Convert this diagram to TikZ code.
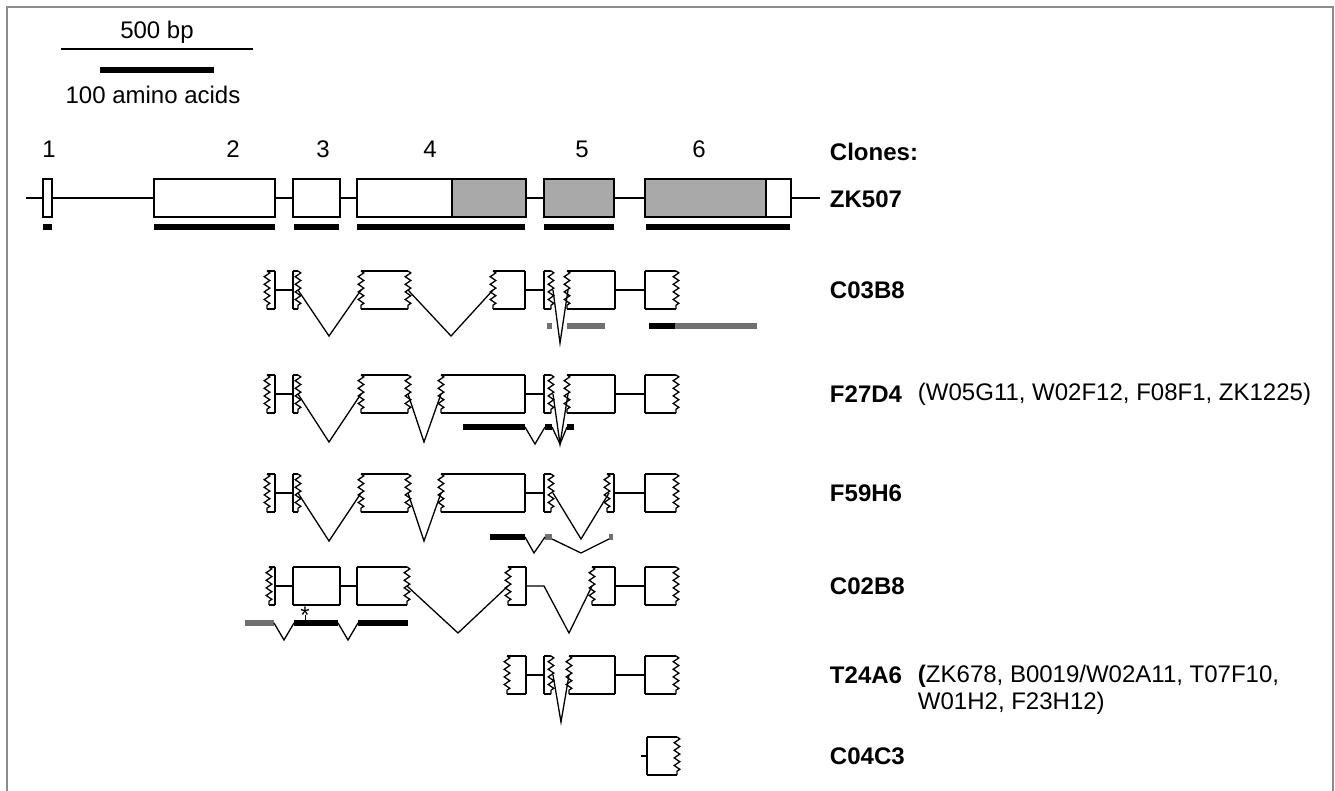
\documentclass[tikz,border=0pt]{standalone}
\usepackage{fontspec}
\setmainfont{Liberation Sans}
\usetikzlibrary{decorations.pathmorphing, positioning}
\definecolor{cexon}{HTML}{A9A9A9}
\definecolor{cbar}{HTML}{707070}
\definecolor{cframe}{HTML}{8C8C8C}
\tikzset{
  every picture/.style={line width=1.3pt, font=\fontsize{24}{27}\selectfont},
  jag/.style={decorate, decoration={zigzag, segment length=7.6pt, amplitude=2.8pt}},
  cds/.style={line width=6pt},
  utr/.style={line width=5.5pt, draw=cbar},
  clone/.style={font=\fontsize{24}{27}\selectfont\bfseries, anchor=west},
  others/.style={anchor=west, align=left},
}
% one edge of an exon piece: s = cut straight, z = jagged (clone ends inside the exon)
\newcommand{\exedge}[3]{\ifx z#3\draw[jag] (#1,#2-19) -- (#1,#2+19);\else\draw (#1,#2-19) -- (#1,#2+19);\fi}
% exon piece: x from, x to, middle y, left edge, right edge
\newcommand{\exon}[5]{%
  \draw (#1,#3-19) -- (#2,#3-19) (#1,#3+19) -- (#2,#3+19);
  \exedge{#1}{#3}{#4}\exedge{#2}{#3}{#5}}

\begin{document}
\begin{tikzpicture}[x=1pt, y=-1pt]
  \fill[white] (0,0) rectangle (1335,790);
  \useasboundingbox (0,0) rectangle (1335,790);
  \draw[cframe, line width=1.5pt] (7,795) -- (7,7) -- (1333,7) -- (1333,795);

  % scale
  \node (bp) at (157,32) {500 bp};
  \draw (61,49) -- (253,49);
  \draw[cds] (100,70) -- (214,70);
  \node (aa) at (153,95) {100 amino acids};

  % exon numbers and clone names
  \foreach \n/\x in {1/49, 2/233, 3/323, 4/430, 5/582, 6/699}
    \node (n\n) at (\x,149) {\n};
  \node[clone] (cl) at (826,152) {Clones:};
  \foreach \c/\y in {ZK507/199, C03B8/290, F27D4/394, F59H6/493, C02B8/586, T24A6/675, C04C3/756}
    \node[clone] (\c) at (826,\y) {\c};
  \node[others] (f27) at (914,394) {(W05G11, W02F12, F08F1, ZK1225)};
  \node[others, anchor=north west] (t24) at (914,661) {\textbf{(}ZK678, B0019/W02A11, T07F10,\\W01H2, F23H12)};

  % ZK507, the gene
  \draw (26,198) -- (820,198);
  \draw[fill=white] (43,179) rectangle (52,217);
  \draw[fill=white] (154,179) rectangle (275,217);
  \draw[fill=white] (293,179) rectangle (340,217);
  \draw[fill=white] (357,179) rectangle (452,217);
  \draw[fill=cexon] (452,179) rectangle (526,217);
  \draw[fill=cexon] (544,179) rectangle (614,217);
  \draw[fill=cexon] (645,179) rectangle (766,217);
  \draw[fill=white] (766,179) rectangle (791,217);
  \foreach \a/\b in {43/52, 154/275, 294/339, 357/525, 544/614, 646/790}
    \draw[cds] (\a,227) -- (\b,227);

  % C03B8
  \exon{267}{275}{290}{z}{s} \draw (275,290) -- (293,290);
  \exon{293}{298}{290}{s}{z} \draw (298,290) -- (329,336) -- (361,290);
  \exon{361}{408}{290}{z}{z} \draw (408,290) -- (451,336) -- (493,290);
  \exon{493}{525}{290}{z}{s} \draw (525,290) -- (544,290);
  \exon{544}{551}{290}{s}{z} \draw (553,290) -- (560,343) -- (568,290);
  \exon{567}{615}{290}{z}{s} \draw (615,290) -- (645,290);
  \exon{645}{676}{290}{s}{z}
  \draw[utr] (547,326) -- (552,326) (567,326) -- (605,326) (675,326) -- (757,326);
  \draw[cds] (649,326) -- (675,326);

  % F27D4
  \exon{267}{275}{394}{z}{s} \draw (275,394) -- (293,394);
  \exon{293}{298}{394}{s}{z} \draw (298,394) -- (329,442) -- (361,394);
  \exon{361}{408}{394}{z}{z} \draw (408,394) -- (424,442) -- (441,394);
  \exon{441}{525}{394}{z}{s} \draw (525,394) -- (544,394);
  \exon{544}{551}{394}{s}{z} \draw (553,394) -- (560,444) -- (568,394);
  \exon{567}{615}{394}{z}{s} \draw (615,394) -- (645,394);
  \exon{645}{676}{394}{s}{z}
  \draw[cds] (463,427) -- (525,427) (545,427) -- (552,427) (567,427) -- (574,427);
  \draw (525,427) -- (535,444) -- (545,427) (552,427) -- (560,444) -- (567,427);

  % F59H6
  \exon{267}{275}{493}{z}{s} \draw (275,493) -- (293,493);
  \exon{293}{298}{493}{s}{z} \draw (298,493) -- (329,541) -- (361,493);
  \exon{361}{408}{493}{z}{z} \draw (408,493) -- (424,541) -- (441,493);
  \exon{441}{525}{493}{z}{s} \draw (525,493) -- (544,493);
  \exon{544}{551}{493}{s}{z} \draw (553,493) -- (581,539) -- (609,493);
  \exon{607}{614}{493}{z}{s} \draw (614,493) -- (645,493);
  \exon{645}{676}{493}{s}{z}
  \draw[cds] (490,537) -- (525,537);
  \draw[utr] (545,537) -- (552,537) (609,537) -- (613,537);
  \draw (525,537) -- (534,553) -- (545,537) (552,539) -- (581,553) -- (609,539);

  % C02B8
  \exon{269}{275}{586}{z}{s} \draw (275,586) -- (293,586);
  \exon{293}{340}{586}{s}{s} \draw (340,586) -- (357,586);
  \exon{357}{407}{586}{s}{z} \draw (407,586) -- (458,633) -- (508,586);
  \exon{508}{526}{586}{z}{s} \draw (526,586) -- (544,586) -- (569,633) -- (592,586);
  \exon{592}{615}{586}{z}{s} \draw (615,586) -- (645,586);
  \exon{645}{676}{586}{s}{z}
  \draw[utr] (245,623) -- (274,623);
  \draw[cds] (294,623) -- (338,623) (358,623) -- (408,623);
  \draw (274,623) -- (284,640) -- (294,623) (338,623) -- (348,640) -- (358,623);
  \draw[line width=1pt] (305,620) -- (305,615);
  \node[font=\fontsize{24}{24}\selectfont, inner sep=0pt] (stop) at (305,615) {*};

  % T24A6
  \exon{507}{526}{675}{z}{s} \draw (526,675) -- (544,675);
  \exon{544}{551}{675}{s}{z} \draw (553,675) -- (561,722) -- (569,675);
  \exon{569}{615}{675}{z}{s} \draw (615,675) -- (645,675);
  \exon{645}{676}{675}{s}{z}

  % C04C3
  \draw (641,756) -- (647,756);
  \exon{647}{677}{756}{s}{z}
\end{tikzpicture}
\end{document}
